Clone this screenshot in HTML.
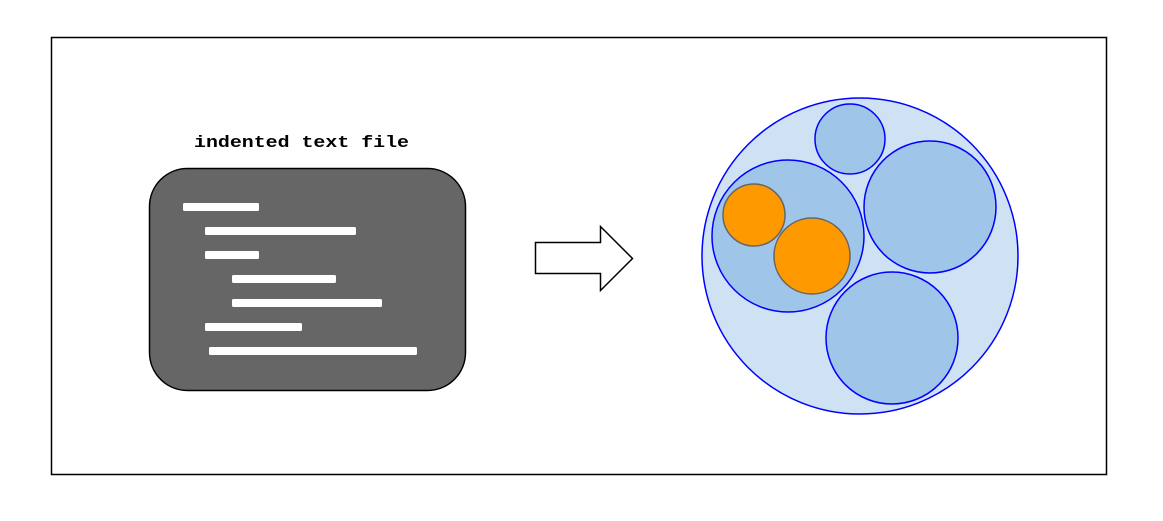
<!DOCTYPE html>
<html><head><style>body{margin:0;background:#fff}</style></head><body>
<svg width="1163" height="516" xmlns="http://www.w3.org/2000/svg">
<rect x="51.5" y="37.5" width="1055" height="437" fill="#fff" stroke="#000" stroke-width="1.5"/>
<text x="194" y="147" textLength="215" lengthAdjust="spacingAndGlyphs" font-family="Liberation Mono, monospace" font-weight="bold" font-size="17">indented text file</text>
<rect x="149.5" y="168.5" width="316" height="222" rx="38" fill="#666" stroke="#000" stroke-width="1.5"/>
<g fill="#fff">
<rect x="183" y="203" width="76" height="8" rx="1.5"/>
<rect x="205" y="227" width="151" height="8" rx="1.5"/>
<rect x="205" y="251" width="54" height="8" rx="1.5"/>
<rect x="232" y="275" width="104" height="8" rx="1.5"/>
<rect x="232" y="299" width="150" height="8" rx="1.5"/>
<rect x="205" y="323" width="97" height="8" rx="1.5"/>
<rect x="209" y="347" width="208" height="8" rx="1.5"/>
</g>
<path d="M535.5 242.5 H600.5 V226.5 L632.5 258.5 L600.5 290.5 V273.5 H535.5 Z" fill="#fff" stroke="#000" stroke-width="1.5"/>
<circle cx="860" cy="256" r="158" fill="#cfe2f3" stroke="#00f" stroke-width="1.5"/>
<g fill="#9fc5e8" stroke="#00f" stroke-width="1.5">
<circle cx="850" cy="139" r="35"/>
<circle cx="930" cy="207" r="66"/>
<circle cx="788" cy="236" r="76"/>
<circle cx="892" cy="338" r="66"/>
</g>
<g fill="#ff9900" stroke="#666" stroke-width="1.5">
<circle cx="754" cy="215" r="31"/>
<circle cx="812" cy="256" r="38"/>
</g>
</svg>
</body></html>
